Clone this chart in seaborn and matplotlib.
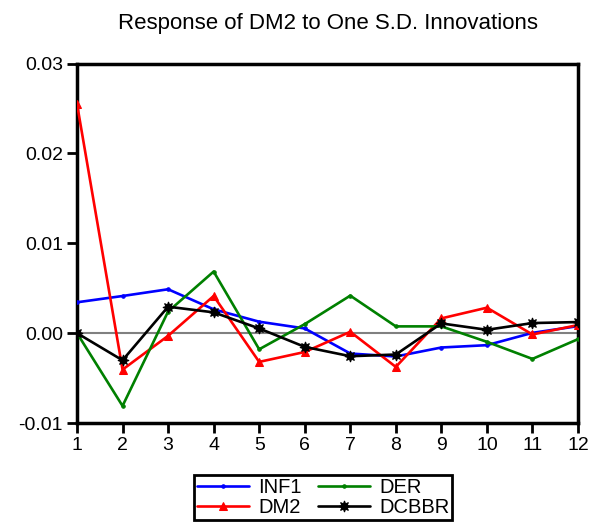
import matplotlib
matplotlib.use("Agg")
import matplotlib.pyplot as plt
import seaborn as sns
import pandas as pd

periods = list(range(1, 13))
inf1 = [0.00343, 0.00413, 0.00488, 0.00265, 0.00127, 0.00052, -0.00227, -0.00260, -0.00160, -0.00134, 0.00003, 0.00078]
der = [0.0, -0.0081, 0.0024, 0.00685, -0.0018, 0.0010, 0.00417, 0.00075, 0.00075, -0.00097, -0.00287, -0.00067]
dm2 = [0.0255, -0.00406, -0.0003, 0.00413, -0.0032, -0.0021, 0.00015, -0.00376, 0.00164, 0.00283, -0.00015, 0.0009]
dcbbr = [0.0, -0.00302, 0.00294, 0.00231, 0.00052, -0.00153, -0.00257, -0.00238, 0.00108, 0.00037, 0.00112, 0.00123]

series_names = ["INF1", "DER", "DM2", "DCBBR"]
yticks = [-0.01, 0.00, 0.01, 0.02, 0.03]
ytick_labels = ["-0.01", "0.00", "0.01", "0.02", "0.03"]

sns.set_theme(style="white")
plt.rcParams['font.family'] = ['Liberation Sans', 'DejaVu Sans']
plt.rcParams['text.color'] = 'black'

fig = plt.figure(figsize=(6.02, 5.25), dpi=100)
ax = fig.add_axes([77/602, 1 - 423/525, 501/602, (423 - 63.5)/525])

ax.axhline(0, color="#808080", lw=1.5, zorder=1)

styles = {
    "INF1": dict(color="#0000ff", marker="o", markersize=2.5),
    "DER": dict(color="#008000", marker="o", markersize=2.5),
    "DM2": dict(color="#ff0000", marker="^", markersize=6),
    "DCBBR": dict(color="#000000", marker=(8, 1, 0), markersize=8),
}
data = {"INF1": inf1, "DER": der, "DM2": dm2, "DCBBR": dcbbr}

handles = {}
for name in ["INF1", "DM2", "DER", "DCBBR"]:
    df = pd.DataFrame({"period": periods, "value": data[name]})
    st = styles[name]
    sns.lineplot(data=df, x="period", y="value", ax=ax, color=st["color"],
                 marker=st["marker"], markersize=st["markersize"],
                 markeredgecolor=st["color"], markerfacecolor=st["color"],
                 linewidth=1.9, label=name, legend=False, zorder=3)
    handles[name] = ax.get_lines()[-1]

ax.set_xlim(1, 12)
ax.set_ylim(-0.01, 0.03)
ax.set_xticks(periods)
ax.set_xticklabels([str(p) for p in periods], fontsize=14)
ax.set_yticks(yticks)
ax.set_yticklabels(ytick_labels, fontsize=14)
ax.set_xlabel("")
ax.set_ylabel("")
for s in ax.spines.values():
    s.set_visible(True)
    s.set_color("black")
    s.set_linewidth(2.5)
ax.tick_params(axis="both", direction="out", length=7, width=2, color="black",
               bottom=True, left=True, pad=3, labelcolor="black")

ax.set_title("Response of DM2 to One S.D. Innovations", fontsize=16, pad=25, color="black")

order = ["INF1", "DM2", "DER", "DCBBR"]
leg = fig.legend([handles[n] for n in order], order, ncol=2, loc="center",
                 bbox_to_anchor=(323/602, 1 - 497.5/525), fontsize=14.5,
                 frameon=True, fancybox=False, framealpha=1, handlelength=2.6,
                 columnspacing=0.8, handletextpad=0.45, labelspacing=0.05,
                 borderpad=0.15, borderaxespad=0, labelcolor="black")
leg.get_frame().set_edgecolor("black")
leg.get_frame().set_linewidth(2)

fig.savefig("out.png", dpi=100)
